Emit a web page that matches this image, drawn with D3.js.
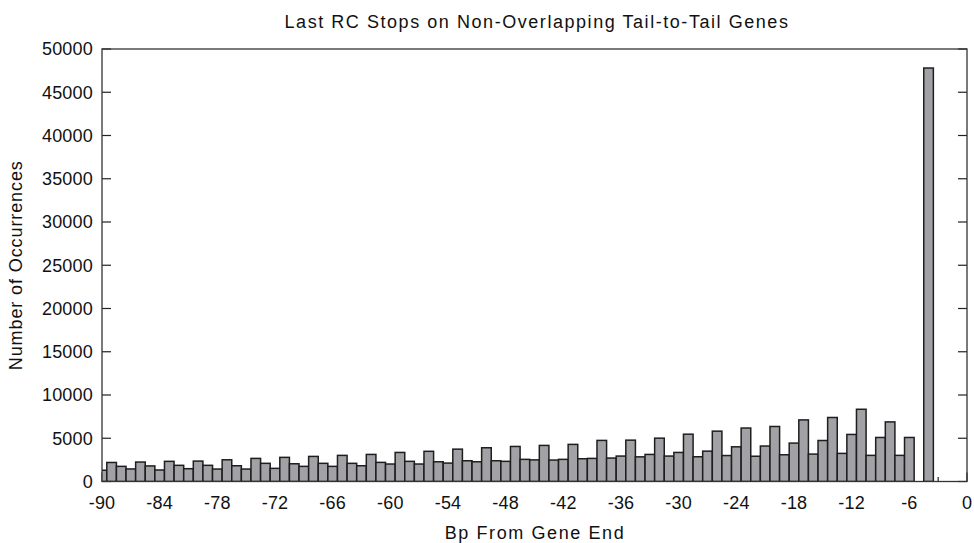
<!DOCTYPE html>
<html>
<head>
<meta charset="utf-8">
<script src="https://cdn.jsdelivr.net/npm/d3@7"></script>
<style>
  html, body { margin: 0; padding: 0; background: #fff; }
  svg { display: block; }
  text { font-family: "Liberation Sans", Arial, Helvetica, sans-serif; fill: #111; }
</style>
</head>
<body>
<svg id="chart" width="974" height="543"></svg>
<script>
// ---- data ----
const positions = d3.range(-90, 0); // -90 .. -1
const counts = [
  1300, 2200, 1750, 1450, 2250, 1800, 1330, 2330, 1870, 1480,   // -90 .. -81
  2360, 1870, 1440, 2510, 1820, 1440, 2670, 2100, 1520, 2790,   // -80 .. -71
  2050, 1750, 2900, 2100, 1750, 3020, 2100, 1820, 3130, 2210,   // -70 .. -61
  2020, 3360, 2330, 2020, 3490, 2280, 2130, 3740, 2400, 2280,   // -60 .. -51
  3900, 2400, 2330, 4050, 2560, 2500, 4170, 2480, 2560, 4290,   // -50 .. -41
  2630, 2670, 4750, 2710, 2940, 4780, 2850, 3130, 5010, 2940,   // -40 .. -31
  3360, 5470, 2860, 3510, 5820, 3000, 4010, 6180, 2920, 4100,   // -30 .. -21
  6360, 3090, 4440, 7120, 3170, 4740, 7400, 3250, 5440, 8350,   // -20 .. -11
  3020, 5090, 6890, 3020, 5090, 0, 47800, 0, 0, 0               // -10 .. -1
];
const xTicks = d3.range(-90, 1, 6);
const xMinorTicks = d3.range(-87, 0, 6);
const yTicks = d3.range(0, 50001, 5000);
const titleText = "Last RC Stops on Non-Overlapping Tail-to-Tail Genes";
const xLabel = "Bp From Gene End";
const yLabel = "Number of Occurrences";

// ---- layout ----
const svg = d3.select("#chart");
const L = 102, R = 967, T = 49, B = 481.5;
const x = d3.scaleLinear().domain([-90, 0]).range([L, R]);
const y = d3.scaleLinear().domain([0, 50000]).range([B, T]);

svg.append("defs").append("clipPath").attr("id", "plotclip")
  .append("rect").attr("x", L).attr("y", T).attr("width", R - L).attr("height", B - T);

// x ticks (inward, behind bars)
const tickColor = "#222";
svg.append("g").selectAll("line.major").data(xTicks).join("line")
  .attr("x1", d => x(d)).attr("x2", d => x(d))
  .attr("y1", B).attr("y2", B - 9)
  .attr("stroke", tickColor).attr("stroke-width", 1.2);
svg.append("g").selectAll("line.minor").data(xMinorTicks).join("line")
  .attr("x1", d => x(d)).attr("x2", d => x(d))
  .attr("y1", B).attr("y2", B - 4.5)
  .attr("stroke", tickColor).attr("stroke-width", 1.2);

// bars
const data = positions.map((p, i) => ({ p, v: counts[i] }));
svg.append("g").attr("clip-path", "url(#plotclip)")
  .selectAll("rect").data(data.filter(d => d.v > 0)).join("rect")
  .attr("x", d => x(d.p - 0.5))
  .attr("width", d => x(d.p + 0.5) - x(d.p - 0.5))
  .attr("y", d => y(d.v))
  .attr("height", d => y(0) - y(d.v))
  .attr("fill", "#a2a2a6")
  .attr("stroke", "#1e1e1e")
  .attr("stroke-width", 1.5);

// y ticks, left & right (inward)
const yt = svg.append("g");
yt.selectAll("line.l").data(yTicks).join("line")
  .attr("x1", L).attr("x2", L + 9)
  .attr("y1", d => y(d)).attr("y2", d => y(d))
  .attr("stroke", tickColor).attr("stroke-width", 1.2);
yt.selectAll("line.r").data(yTicks).join("line")
  .attr("x1", R).attr("x2", R - 9)
  .attr("y1", d => y(d)).attr("y2", d => y(d))
  .attr("stroke", tickColor).attr("stroke-width", 1.2);

// frame
svg.append("rect").attr("x", L).attr("y", T).attr("width", R - L).attr("height", B - T)
  .attr("fill", "none").attr("stroke", "#333").attr("stroke-width", 1.3);

// tick labels
const fs = 18;
svg.append("g").selectAll("text").data(yTicks).join("text")
  .attr("x", 93).attr("y", d => y(d)).attr("dy", "0.35em")
  .attr("text-anchor", "end").attr("font-size", fs)
  .attr("letter-spacing", 0.2)
  .text(d => d);
svg.append("g").selectAll("text").data(xTicks).join("text")
  .attr("x", d => x(d)).attr("y", 509)
  .attr("text-anchor", "middle").attr("font-size", fs)
  .attr("letter-spacing", 0.2)
  .text(d => d);

// titles
svg.append("text").attr("x", 537).attr("y", 28).attr("text-anchor", "middle")
  .attr("font-size", fs).attr("letter-spacing", 1.55).text(titleText);
svg.append("text").attr("x", 535).attr("y", 539).attr("text-anchor", "middle")
  .attr("font-size", fs).attr("letter-spacing", 1.6).text(xLabel);
svg.append("text").attr("transform", "translate(22," + ((T + B) / 2) + ") rotate(-90)")
  .attr("text-anchor", "middle").attr("font-size", fs).attr("letter-spacing", 0.9).text(yLabel);
</script>
</body>
</html>
